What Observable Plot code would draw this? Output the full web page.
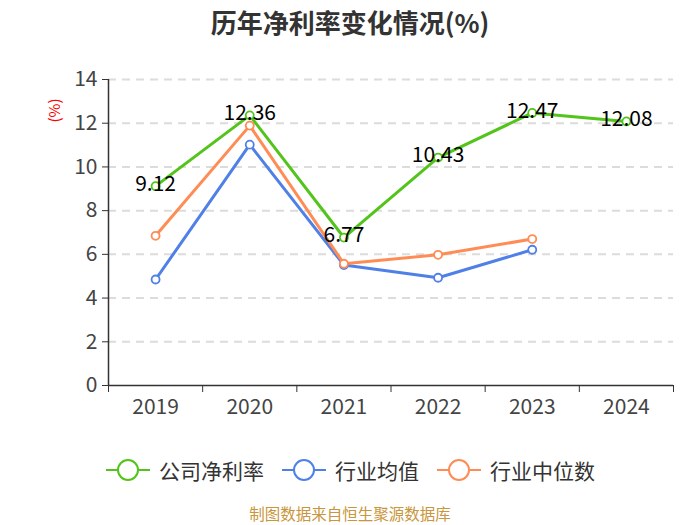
<!DOCTYPE html>
<html><head><meta charset="utf-8">
<script src="https://cdn.jsdelivr.net/npm/d3@7"></script>
<script src="https://cdn.jsdelivr.net/npm/@observablehq/plot@0.6"></script>
<style>
body{margin:0;background:#fff;font-family:"Noto Sans CJK SC","Noto Sans",sans-serif;}
#wrap{width:700px;height:524px;position:relative;}
#title{height:44px;line-height:44px;text-align:center;font-size:26px;font-weight:bold;color:#333;}
#legend{position:absolute;top:452px;left:0;width:700px;height:36px;}
#caption{position:absolute;top:503px;left:0;width:700px;height:20px;text-align:center;font-size:15.5px;line-height:20px;color:#c8963c;}
.li{position:absolute;top:0;display:flex;align-items:center;height:36px;font-size:21px;color:#333;}
.li svg{margin-right:9px;}
</style></head>
<body><div id="wrap">
<div id="title">历年净利率变化情况(%)</div>
<div id="chart"></div>
<div id="legend"></div>
<div id="caption">制图数据来自恒生聚源数据库</div>
</div>
<script>
const years = ["2019","2020","2021","2022","2023","2024"];
const company = [9.12, 12.36, 6.77, 10.43, 12.47, 12.08];
const industryMean = [4.85, 11.02, 5.51, 4.93, 6.21];
const industryMedian = [6.85, 11.89, 5.57, 5.98, 6.70];
const seriesNames = ["公司净利率","行业均值","行业中位数"];
const colors = ["#52c41a","#4f80e8","#ff8c55"];
const yTicks = [0,2,4,6,8,10,12,14];

const rows = (vals) => vals.map((v,i)=>({i:i+0.5, v, label:v.toFixed(2)}));
const dC = rows(company), dM = rows(industryMean), dD = rows(industryMedian);

const font = '"Noto Sans CJK SC","Noto Sans",sans-serif';
const chart = Plot.plot({
  width:700, height:392,
  marginLeft:108, marginRight:27, marginTop:35, marginBottom:51,
  style:{fontFamily:font, fontSize:"21px", color:"#444", background:"#fff"},
  x:{type:"linear", domain:[0, years.length]},
  y:{domain:[0,14]},
  marks:[
    Plot.gridY(yTicks.filter(t=>t>0), {stroke:"#dcdcdc", strokeOpacity:1, strokeDasharray:"8,6", strokeWidth:2}),
    Plot.axisY(yTicks, {tickSize:6, tickPadding:5, fontSize:21, stroke:"#333", fill:"#444", label:null}),
    Plot.ruleX([0], {stroke:"#333", strokeWidth:1.5}),
    Plot.ruleY([0], {stroke:"#333", strokeWidth:1.5}),
    Plot.axisX(d3.range(years.length+1), {tickSize:7, tickFormat:()=>"", stroke:"#333", label:null}),
    Plot.axisX(d3.range(years.length).map(i=>i+0.5), {tickSize:0, tickPadding:14, fontSize:21, fill:"#444", tickFormat:(d)=>years[Math.floor(d)], label:null}),
    Plot.text(["(%)"], {frameAnchor:"top-left", textAnchor:"middle", lineAnchor:"middle", dx:-53, dy:31, rotate:-90, fill:"red", fontSize:15}),
    Plot.line(dC, {x:"i", y:"v", stroke:colors[0], strokeWidth:3}),
    Plot.line(dM, {x:"i", y:"v", stroke:colors[1], strokeWidth:3}),
    Plot.line(dD, {x:"i", y:"v", stroke:colors[2], strokeWidth:3}),
    Plot.dot(dM, {x:"i", y:"v", r:4, stroke:colors[1], fill:"#fff", strokeWidth:1.8}),
    Plot.dot(dD, {x:"i", y:"v", r:4, stroke:colors[2], fill:"#fff", strokeWidth:1.8}),
    Plot.dot(dC, {x:"i", y:"v", r:4, stroke:colors[0], fill:"#fff", strokeWidth:1.8}),
    Plot.text(dC, {x:"i", y:"v", text:"label", fill:"#000", fontSize:21, dy:-2})
  ]
});
document.getElementById("chart").appendChild(chart);

const lefts = [106, 282, 437];
const lg = document.getElementById("legend");
seriesNames.forEach((n,k)=>{
  const d = document.createElement("div");
  d.className="li"; d.style.left = lefts[k]+"px";
  d.innerHTML = `<svg width="44" height="24"><line x1="0" y1="12" x2="44" y2="12" stroke="${colors[k]}" stroke-width="2"/><circle cx="22" cy="12" r="10" fill="#fff" stroke="${colors[k]}" stroke-width="2"/></svg>${n}`;
  lg.appendChild(d);
});
</script>
</body></html>
